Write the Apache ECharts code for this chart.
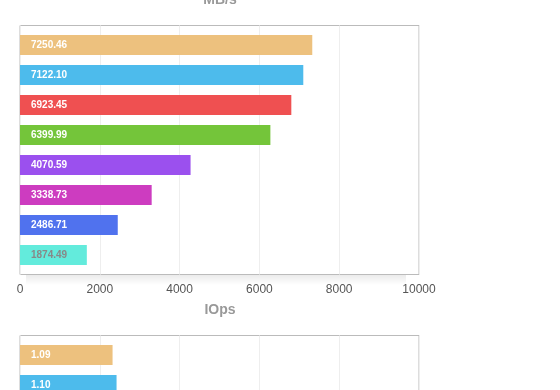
<!DOCTYPE html>
<html>
<head>
<meta charset="utf-8">
<script src="https://cdn.jsdelivr.net/npm/echarts@6/dist/echarts.min.js"></script>
<style>html,body{margin:0;padding:0;background:#fff;overflow:hidden}#c{width:560px;height:700px}</style>
</head>
<body>
<div id="c"></div>
<script>
// ---- data ----
var mbCategories = ['d1','d2','d3','d4','d5','d6','d7','d8'];
var mbValues = [7325, 7100, 6800, 6275, 4275, 3300, 2450, 1675];
var mbLabels = ['7250.46','7122.10','6923.45','6399.99','4070.59','3338.73','2486.71','1874.49'];
var mbTicks = [0, 2000, 4000, 6000, 8000, 10000];

var ioCategories = ['d1','d2'];
var ioValues = [1.16, 1.21];
var ioLabels = ['1.09','1.10'];
var ioTicks = [0, 1, 2, 3, 4, 5];

var palette = ['#EDC17E','#4DBBEC','#EF5051','#74C53A','#9B50EE','#CD3CC0','#5072EE','#63EBDC'];
var labelColors = ['#fff','#fff','#fff','#fff','#fff','#fff','#fff','#888'];

var FONT = '"Liberation Sans", Arial, Helvetica, sans-serif';
var chart = echarts.init(document.getElementById('c'), null, {renderer:'canvas'});

var GL = 20, GR = 141;
function frameGrid(top){
  return {left:GL, right:GR, top:top, height:249, show:true, backgroundColor:'#fff',
    borderColor:'#bbb', borderWidth:1, containLabel:false};
}
function dataGrid(top, n){
  return {left:GL, right:GR, top:top, height:30*n, containLabel:false};
}
function frameX(gi, ticks){
  return {type:'value', gridIndex:gi, min:ticks[0], max:ticks[ticks.length-1],
    interval:ticks[1]-ticks[0],
    axisLine:{show:false}, axisTick:{show:false},
    axisLabel:{show:true, margin:9, color:'#555', fontSize:12, fontFamily:FONT,
      formatter:function(v){ return String(v); }},
    splitLine:{show:true, lineStyle:{color:'#eee', width:1}}};
}
function dataX(gi, ticks){
  return {type:'value', gridIndex:gi, min:ticks[0], max:ticks[ticks.length-1],
    show:false, splitLine:{show:false}};
}
function frameY(gi){
  return {type:'category', gridIndex:gi, data:['x'], show:false};
}
function dataY(gi, cats){
  return {type:'category', gridIndex:gi, data:cats, inverse:true, show:false};
}
function barSeries(xi, yi, vals, labels){
  return {type:'bar', xAxisIndex:xi, yAxisIndex:yi, barWidth:20,
    data: vals.map(function(v,i){
      return {value:v, itemStyle:{color:palette[i]},
        label:{color:labelColors[i]}};
    }),
    label:{show:true, position:'insideLeft', distance:11, fontSize:10, fontWeight:'bold',
      fontFamily:FONT,
      formatter:function(p){ return labels[p.dataIndex]; }},
    silent:true, animation:false};
}
function shadowBand(y){
  return {type:'rect', silent:true, z:-1,
    shape:{x:26, y:y, width:380, height:10},
    style:{fill:new echarts.graphic.LinearGradient(0,0,0,1,[
      {offset:0, color:'rgba(0,0,0,0.08)'},{offset:1, color:'rgba(0,0,0,0)'}])}};
}

chart.setOption({
  animation:false,
  title:[
    {text:'MB/s', left:220, top:-7, textAlign:'center', padding:0,
      textStyle:{color:'#999', fontSize:14, fontWeight:'bold', fontFamily:FONT}},
    {text:'IOps', left:220, top:303, textAlign:'center', padding:0,
      textStyle:{color:'#999', fontSize:14, fontWeight:'bold', fontFamily:FONT}}
  ],
  graphic:[shadowBand(275), shadowBand(585)],
  grid:[frameGrid(25.5), dataGrid(30, mbCategories.length), frameGrid(335.5), dataGrid(340, ioCategories.length)],
  xAxis:[frameX(0, mbTicks), dataX(1, mbTicks), frameX(2, ioTicks), dataX(3, ioTicks)],
  yAxis:[frameY(0), dataY(1, mbCategories), frameY(2), dataY(3, ioCategories)],
  series:[barSeries(1,1,mbValues,mbLabels), barSeries(3,3,ioValues,ioLabels)]
});
</script>
</body>
</html>
